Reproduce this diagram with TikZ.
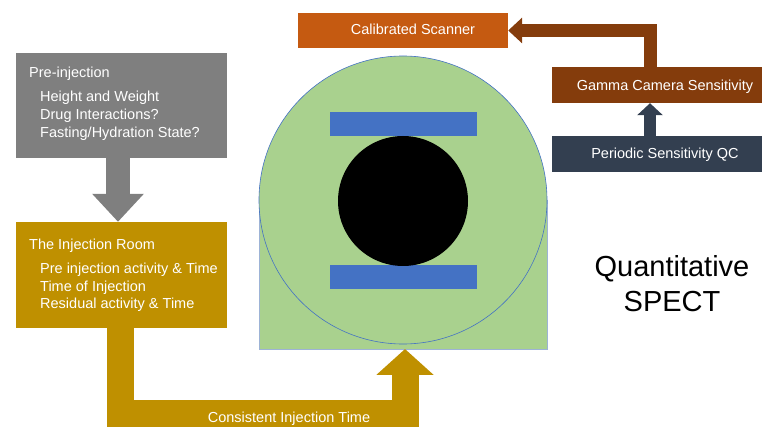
\documentclass[tikz,border=0pt]{standalone}
\usepackage{fontspec}
\setmainfont{Liberation Sans}
\usetikzlibrary{arrows.meta,calc}
\definecolor{boxgrey}{HTML}{7F7F7F}
\definecolor{boxgold}{HTML}{BF9000}
\definecolor{boxorange}{HTML}{C55A11}
\definecolor{boxbrown}{HTML}{843C0C}
\definecolor{boxslate}{HTML}{333F50}
\definecolor{gantrygreen}{HTML}{A9D18E}
\definecolor{detblue}{HTML}{4472C4}
\definecolor{rimgrey}{HTML}{9DB3D6}
\begin{document}
\begin{tikzpicture}[x=1pt,y=-1pt,
  box/.style={rectangle, inner sep=0pt, minimum width=#1},
  box/.default=211pt,
  txt/.style={text=white, inner sep=0pt, font=\fontsize{14.5}{17}\selectfont},
  bigtxt/.style={text=black, inner sep=0pt, font=\fontsize{29}{35}\selectfont}
]
\useasboundingbox (0,0) rectangle (763,427);

% ---- boxes ----
\node[box, fill=boxgrey, minimum height=105pt] (pre) at (121.5,105.5) {};
\node[box, fill=boxgold, minimum height=106pt] (inj) at (121.5,275) {};
\node[box=210pt, fill=boxorange, minimum height=35pt] (scan) at (403,30.5) {};
\node[box=210pt, fill=boxbrown, minimum height=36pt] (gamma) at (657,85) {};
\node[box=210pt, fill=boxslate, minimum height=36pt] (qc) at (657,154) {};

% ---- gantry ----
\draw[draw=rimgrey, line width=0.6pt, fill=gantrygreen] (259,200) rectangle (547,349);
\draw[draw=detblue, line width=0.6pt, fill=gantrygreen] (403,200) circle[radius=144];
\fill[detblue] (330,112) rectangle (477,136);
\fill[detblue] (330,265) rectangle (477,289);
\fill[black] (403,201) circle[radius=65];
\coordinate (gbot) at (405,349);

% ---- block arrows ----
\draw[boxgrey, line width=24pt, -{Triangle[width=50pt,length=28pt]}]
  ($(pre.south)+(-3.5,0)$) -- ($(inj.north)+(-3.5,0)$);
\draw[boxgold, line width=27pt, -{Triangle[width=56pt,length=26pt]}]
  ($(inj.south)+(-1.5,0)$) -- ($(inj.south)+(-1.5,85.5)$) -| (gbot);
\draw[boxslate, line width=12pt, -{Triangle[width=25pt,length=12pt]}]
  ($(qc.north)+(-7,0)$) -- ($(gamma.south)+(-7,0)$);
\draw[boxbrown, line width=13pt, -{Triangle[width=25pt,length=14pt]}]
  ($(gamma.north)+(-7,0)$) |- (scan.east);

% ---- texts ----
\node[txt, anchor=base west] (preh) at (29,78) {Pre-injection};
\node[txt, anchor=base west] (pre1) at (40,102) {Height and Weight};
\node[txt, anchor=base west] (pre2) at (40,120) {Drug Interactions?};
\node[txt, anchor=base west] (pre3) at (40,138) {Fasting/Hydration State?};

\node[txt, anchor=base west] (injh) at (29,250) {The Injection Room};
\node[txt, anchor=base west] (inj1) at (40,274) {Pre injection activity \& Time};
\node[txt, anchor=base west] (inj2) at (40,292) {Time of Injection};
\node[txt, anchor=base west] (inj3) at (40,309) {Residual activity \& Time};

\node[txt, anchor=base] (scant) at (413,35) {Calibrated Scanner};
\node[txt, anchor=base] (gammat) at (665,91) {Gamma Camera Sensitivity};
\node[txt, anchor=base] (qct) at (665,159) {Periodic Sensitivity QC};
\node[txt, anchor=base] (cons) at (289,422) {Consistent Injection Time};

\node[bigtxt, anchor=base] (q1) at (672,277) {Quantitative};
\node[bigtxt, anchor=base] (q2) at (672,312) {SPECT};
\end{tikzpicture}
\end{document}
